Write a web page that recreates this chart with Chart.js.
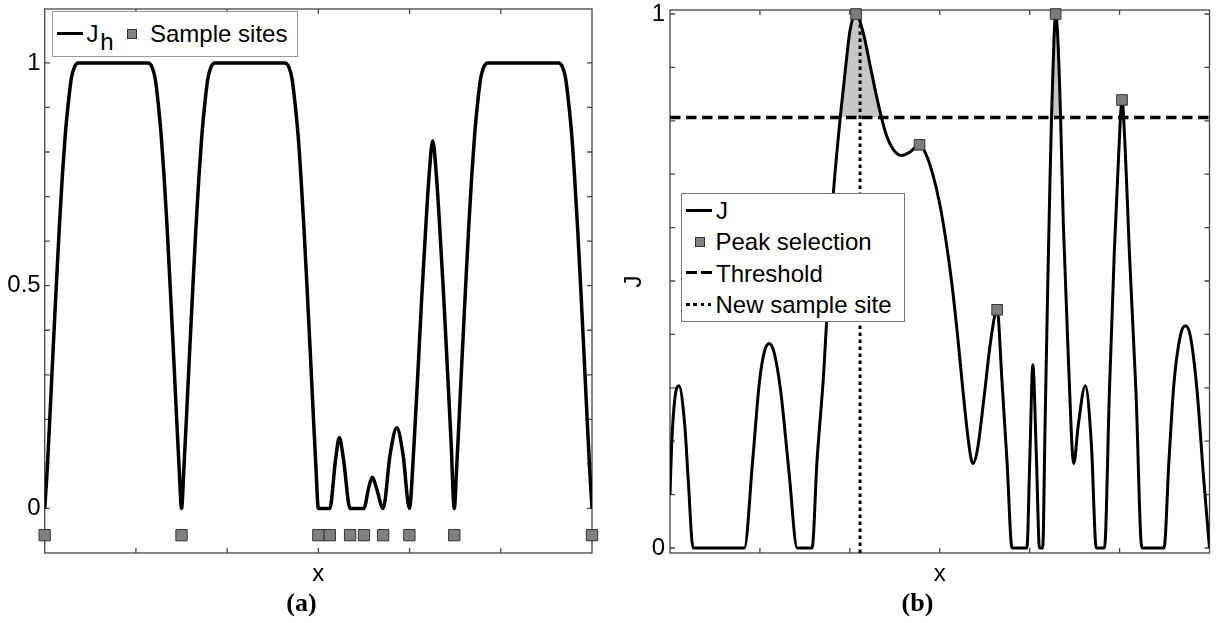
<!DOCTYPE html>
<html>
<head>
<meta charset="utf-8">
<script src="https://cdn.jsdelivr.net/npm/chart.js@4.4.0/dist/chart.umd.min.js"></script>
<style>
  body { margin: 0; background: #fff; width: 1218px; height: 623px; position: relative; overflow: hidden;
         font-family: "Liberation Sans", Arial, sans-serif; }
  canvas { position: absolute; top: 0; }
  #chartA { left: 0; }
  #chartB { left: 610px; }
  .box { position: absolute; box-sizing: border-box; background: #fff; border: 1px solid #777; }
  .lg { position: absolute; font-size: 24px; line-height: 24px; color: #000; white-space: nowrap; }
  .mk { position: absolute; box-sizing: border-box; width: 10px; height: 10px; background: #808080; border: 1px solid #333; }
  .ln { position: absolute; background: #000; }
  .panel { position: absolute; width: 100px; text-align: center; font: bold 26px/26px "Liberation Serif", "Times New Roman", serif; }
</style>
</head>
<body>
<canvas id="chartA" width="610" height="623"></canvas>
<canvas id="chartB" width="608" height="623"></canvas>

<!-- legend (a) -->
<div class="box" style="left:52px;top:11px;width:246px;height:46px;border-color:#999"></div>
<div class="ln" style="left:57px;top:31.5px;width:26px;height:3.5px"></div>
<span class="lg" style="left:86.5px;top:22.4px">J</span>
<span class="lg" style="left:100.2px;top:29.7px">h</span>
<div class="mk" style="left:127px;top:28.5px"></div>
<span class="lg" style="left:150px;top:22.4px">Sample sites</span>

<!-- legend (b) -->
<div class="box" style="left:681px;top:193px;width:224px;height:129px"></div>
<div class="ln" style="left:686px;top:209px;width:26px;height:3px"></div>
<span class="lg" style="left:716px;top:199.2px">J</span>
<div class="mk" style="left:695px;top:236.7px"></div>
<span class="lg" style="left:715.5px;top:230.4px">Peak selection</span>
<div class="ln" style="left:686px;top:271.4px;width:11px;height:3px"></div>
<div class="ln" style="left:701px;top:271.4px;width:11px;height:3px"></div>
<span class="lg" style="left:716px;top:261.6px">Threshold</span>
<div class="ln" style="left:686px;top:302.6px;width:3.5px;height:3px"></div>
<div class="ln" style="left:693.3px;top:302.6px;width:3.5px;height:3px"></div>
<div class="ln" style="left:700.6px;top:302.6px;width:3.5px;height:3px"></div>
<div class="ln" style="left:707.9px;top:302.6px;width:3.5px;height:3px"></div>
<span class="lg" style="left:715.5px;top:292.8px">New sample site</span>

<div class="panel" style="left:251.5px;top:590.2px">(a)</div>
<div class="panel" style="left:867.5px;top:590.2px">(b)</div>

<script>
// shared x domain and tick positions
var xRange = [0, 6];
var xTickMarks = [1, 2, 3, 4, 5];

// (a) surrogate J_h and the sample sites
var jhX = [
  0, 0.0285, 0.0614, 0.0943, 0.1272, 0.1601, 0.193, 0.2259, 0.2588, 0.2916, 0.3245, 0.3684,
  1.134, 1.178, 1.211, 1.244, 1.276, 1.309, 1.342, 1.375, 1.408, 1.441, 1.474, 1.5,
  1.526, 1.559, 1.592, 1.625, 1.658, 1.691, 1.724, 1.756, 1.789, 1.822, 1.866,
  2.634, 2.678, 2.711, 2.744, 2.777, 2.809, 2.842, 2.875, 2.908, 2.941, 2.974, 3.0,
  3.125, 3.189, 3.23, 3.276, 3.348, 3.5, 3.55, 3.592, 3.638, 3.71, 3.786, 3.86, 3.929, 3.998,
  4.045, 4.09, 4.135, 4.18, 4.215, 4.254, 4.293, 4.328, 4.373, 4.418, 4.455, 4.49,
  4.516, 4.549, 4.582, 4.615, 4.648, 4.681, 4.714, 4.746, 4.779, 4.812, 4.856,
  5.634, 5.678, 5.711, 5.744, 5.777, 5.809, 5.842, 5.875, 5.908, 5.941, 5.974, 6.0];
var jhY = [
  0, 0.09, 0.225, 0.365, 0.50, 0.63, 0.745, 0.84, 0.91, 0.965, 0.99, 1,
  1, 0.99, 0.965, 0.91, 0.84, 0.745, 0.63, 0.50, 0.365, 0.225, 0.09, 0,
  0.09, 0.225, 0.365, 0.50, 0.63, 0.745, 0.84, 0.91, 0.965, 0.99, 1,
  1, 0.99, 0.965, 0.91, 0.84, 0.745, 0.63, 0.50, 0.365, 0.225, 0.09, 0,
  0, 0.11, 0.159, 0.11, 0, 0, 0.045, 0.07, 0.045, 0, 0.12, 0.181, 0.12, 0,
  0.13, 0.30, 0.48, 0.64, 0.75, 0.825, 0.75, 0.64, 0.48, 0.30, 0.15, 0,
  0.09, 0.225, 0.365, 0.50, 0.63, 0.745, 0.84, 0.91, 0.965, 0.99, 1,
  1, 0.99, 0.965, 0.91, 0.84, 0.745, 0.63, 0.50, 0.365, 0.225, 0.09, 0];
var siteX = [0, 1.5, 3.0, 3.125, 3.348, 3.5, 3.71, 3.998, 4.49, 6.0];
var siteLevel = -0.06;
var yRangeA = [-0.1, 1.121];
var yMarksA = [0, 0.1, 0.2, 0.3, 0.4, 0.5, 0.6, 0.7, 0.8, 0.9, 1];
var yLabelsA = [0, 0.5, 1];

// (b) J, selected peaks, threshold and the new site
var jX = [0, 0.019, 0.055, 0.099, 0.165, 0.202, 0.257, 0.827, 0.919, 0.992, 1.047, 1.103, 1.158, 1.231,
  1.323, 1.415, 1.58, 1.635, 1.709, 1.764, 1.811, 1.856, 1.893, 1.948, 2.003, 2.069, 2.15, 2.224, 2.297,
  2.352, 2.407, 2.481, 2.572, 2.665, 2.775, 2.845, 2.922, 2.999, 3.065, 3.131, 3.197, 3.252, 3.308, 3.345,
  3.37, 3.418, 3.492, 3.565, 3.638, 3.693, 3.749, 3.804, 3.969, 4.002, 4.035, 4.075, 4.109, 4.145, 4.171,
  4.201, 4.226, 4.244, 4.27, 4.289, 4.314, 4.344, 4.374, 4.429, 4.491, 4.539, 4.619, 4.686, 4.741, 4.832,
  4.887, 4.942, 4.991, 5.027, 5.064, 5.108, 5.182, 5.248, 5.494, 5.549, 5.604, 5.678, 5.733, 5.788, 5.862,
  5.935, 6.0];
var jY = [0.10, 0.196, 0.281, 0.304, 0.228, 0.13, 0, 0, 0.163, 0.307, 0.366, 0.383, 0.366, 0.294,
  0.143, 0, 0, 0.163, 0.327, 0.491, 0.649, 0.741, 0.806, 0.892, 0.970, 1.0, 0.964, 0.905, 0.846,
  0.806, 0.773, 0.747, 0.735, 0.741, 0.755, 0.738, 0.70, 0.645, 0.58, 0.50, 0.40, 0.305, 0.215, 0.17,
  0.158, 0.183, 0.281, 0.386, 0.446, 0.31, 0.16, 0, 0, 0.17, 0.343, 0.17, 0, 0, 0.228,
  0.491, 0.688, 0.813, 0.951, 1.0, 0.951, 0.806, 0.609, 0.36, 0.158, 0.228, 0.304, 0.196, 0, 0,
  0.294, 0.557, 0.741, 0.839, 0.741, 0.557, 0.294, 0, 0, 0.163, 0.307, 0.399, 0.416, 0.396, 0.294,
  0.13, 0];
var peakX = [2.069, 2.775, 3.638, 4.289, 5.027];
var peakY = [1.0, 0.755, 0.446, 1.0, 0.839];
var threshold = 0.806;
var newSiteX = 2.114;
var yRangeB = [-0.0094, 1.0075];
var yMarksB = [0, 0.1, 0.2, 0.3, 0.4, 0.5, 0.6, 0.7, 0.8, 0.9, 1];
var yLabelsB = [0, 1];

var FONT = '"Liberation Sans", Arial, sans-serif';
Chart.defaults.font.family = FONT;
Chart.defaults.color = '#000';

function pts(xs, ys) {
  return xs.map(function (x, i) { return { x: x, y: ys[i] }; });
}

// box round the plot with inward tick marks on all four sides
var frame = {
  id: 'frame',
  beforeDatasetsDraw: function (chart, args, opts) {
    var ctx = chart.ctx, a = chart.chartArea, sx = chart.scales.x, sy = chart.scales.y;
    ctx.save();
    ctx.strokeStyle = '#444';
    ctx.lineWidth = 1.3;
    ctx.strokeRect(a.left, a.top, a.right - a.left, a.bottom - a.top);
    ctx.beginPath();
    opts.xMarks.forEach(function (v) {
      var p = sx.getPixelForValue(v);
      ctx.moveTo(p, a.bottom); ctx.lineTo(p, a.bottom - 5);
      ctx.moveTo(p, a.top); ctx.lineTo(p, a.top + 5);
    });
    opts.yMarks.forEach(function (v) {
      var p = sy.getPixelForValue(v);
      ctx.moveTo(a.left, p); ctx.lineTo(a.left + 5, p);
      ctx.moveTo(a.right, p); ctx.lineTo(a.right - 5, p);
    });
    ctx.stroke();
    ctx.restore();
  }
};

function xAxis() {
  return {
    type: 'linear', min: xRange[0], max: xRange[1],
    grid: { display: false, drawTicks: false }, border: { display: false },
    ticks: { display: false },
    afterBuildTicks: function (s) { s.ticks = xTickMarks.map(function (v) { return { value: v }; }); },
    title: { display: true, text: 'x', font: { size: 24 }, color: '#000', padding: { top: 0, bottom: 34.6 } },
    afterFit: function (s) { s.height = 70; s.paddingLeft = 0; s.paddingRight = 0; }
  };
}

function yAxis(range, labels, width, pad, title) {
  return {
    type: 'linear', min: range[0], max: range[1],
    grid: { display: false, drawTicks: false }, border: { display: false },
    afterBuildTicks: function (s) { s.ticks = labels.map(function (v) { return { value: v }; }); },
    ticks: { padding: pad, font: { size: 24 }, color: '#000', callback: function (v) { return String(v); } },
    title: title,
    afterFit: function (s) { s.width = width; s.paddingTop = 0; s.paddingBottom = 0; }
  };
}

new Chart(document.getElementById('chartA'), {
  type: 'line',
  data: {
    datasets: [{
      label: 'Sample sites',
      data: siteX.map(function (x) { return { x: x, y: siteLevel }; }),
      showLine: false, pointStyle: 'rect', pointRadius: 8, pointHoverRadius: 8,
      pointBackgroundColor: '#808080', pointBorderColor: '#333', pointBorderWidth: 1, clip: false
    }, {
      label: 'J_h',
      data: pts(jhX, jhY),
      borderColor: '#000', borderWidth: 3.5, pointRadius: 0, fill: false,
      cubicInterpolationMode: 'monotone'
    }]
  },
  options: {
    responsive: false, animation: false, events: [],
    layout: { padding: { left: 0, right: 18, top: 5.7, bottom: 0 } },
    plugins: { legend: { display: false }, tooltip: { enabled: false },
               frame: { xMarks: xTickMarks, yMarks: yMarksA } },
    scales: { x: xAxis(), y: yAxis(yRangeA, yLabelsA, 44.7, 4, { display: false }) }
  },
  plugins: [frame]
});

new Chart(document.getElementById('chartB'), {
  type: 'line',
  data: {
    datasets: [{
      label: 'Peak selection',
      data: pts(peakX, peakY),
      showLine: false, pointStyle: 'rect', pointRadius: 7.5, pointHoverRadius: 7.5,
      pointBackgroundColor: '#7d7d7d', pointBorderColor: '#333', pointBorderWidth: 1, clip: false
    }, {
      label: 'Threshold',
      data: [{ x: xRange[0], y: threshold }, { x: xRange[1], y: threshold }],
      borderColor: '#000', borderWidth: 3.5, borderDash: [10.5, 5.5], pointRadius: 0, fill: false
    }, {
      label: 'New sample site',
      data: [{ x: newSiteX, y: yRangeB[0] }, { x: newSiteX, y: yRangeB[1] }],
      borderColor: '#000', borderWidth: 3, borderDash: [3.5, 3.5], pointRadius: 0, fill: false
    }, {
      label: 'J',
      data: pts(jX, jY),
      borderColor: '#000', borderWidth: 3, pointRadius: 0,
      cubicInterpolationMode: 'monotone',
      fill: { target: { value: threshold }, above: '#c6c6c6', below: 'rgba(0,0,0,0)' }
    }]
  },
  options: {
    responsive: false, animation: false, events: [],
    layout: { padding: { left: 0, right: 4, top: 10, bottom: 0 } },
    plugins: { legend: { display: false }, tooltip: { enabled: false },
               frame: { xMarks: xTickMarks, yMarks: yMarksB } },
    scales: {
      x: xAxis(),
      y: yAxis(yRangeB, yLabelsB, 60, 5,
        { display: true, text: 'J', font: { size: 24 }, color: '#000', padding: { top: 9.6, bottom: 0 } })
    }
  },
  plugins: [frame]
});
</script>
</body>
</html>
